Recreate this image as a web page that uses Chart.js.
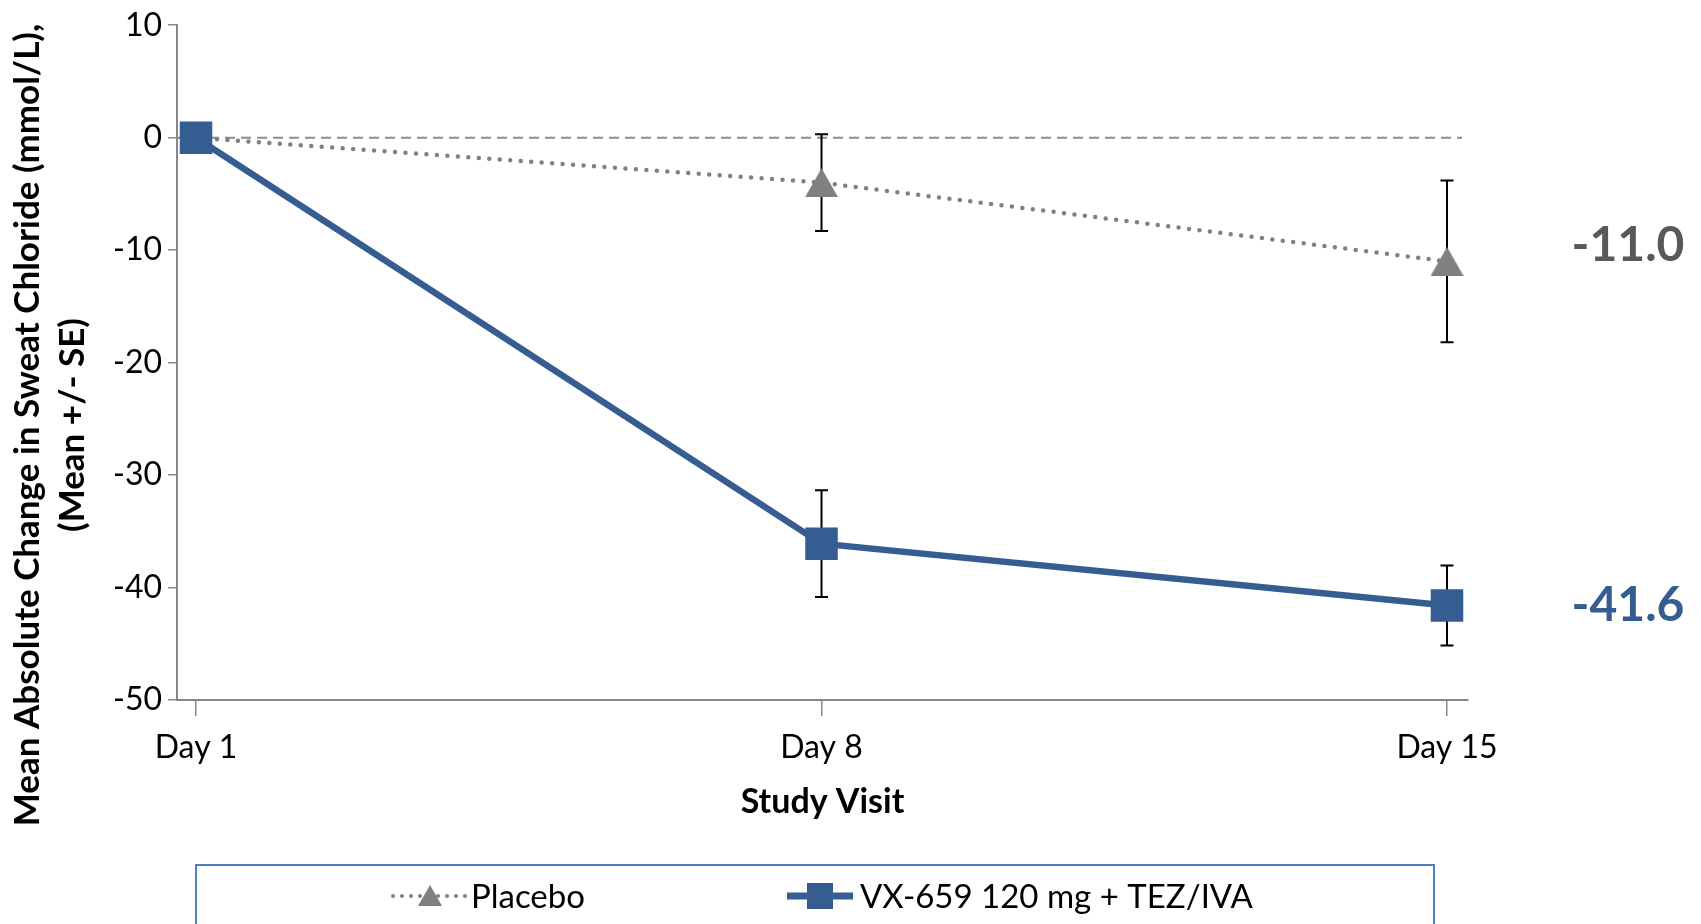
<!DOCTYPE html>
<html>
<head>
<meta charset="utf-8">
<script src="https://cdn.jsdelivr.net/npm/chart.js@4.4.1/dist/chart.umd.min.js"></script>
<style>
  html, body { margin: 0; padding: 0; background: #fff; }
  #wrap { width: 1701px; height: 924px; }
</style>
</head>
<body>
<div id="wrap"><canvas id="chart" width="1701" height="924"></canvas></div>
<script>
// data
const visits = ['Day 1', 'Day 8', 'Day 15'];
const visitDays = [1, 8, 15];
const placeboMean = [0, -4.0, -11.0];
const placeboSE = [0, 4.3, 7.2];
const vxMean = [0, -36.1, -41.6];
const vxSE = [0, 4.75, 3.55];
const yTicks = [10, 0, -10, -20, -30, -40, -50];
const seriesNames = ['Placebo', 'VX-659 120 mg + TEZ/IVA'];
const yTitle = ['Mean Absolute Change in Sweat Chloride (mmol/L),', '(Mean +/- SE)'];
const xTitle = 'Study Visit';

const GREY = '#808080';
const BLUE = '#355d91';
const AXIS = '#878787';
const FONT = 'Lato';

function toPoints(means) {
    return visitDays.map((d, i) => ({ x: d, y: means[i] }));
}

// triangle marker centred on its bounding box, like the original
function triangleMarker(w, h, color) {
    const c = document.createElement('canvas');
    c.width = w; c.height = h;
    const g = c.getContext('2d');
    g.fillStyle = color;
    g.beginPath();
    g.moveTo(w / 2, 0);
    g.lineTo(w, h);
    g.lineTo(0, h);
    g.closePath();
    g.fill();
    return c;
}

// error bars, zero line, titles, end labels and the boxed legend
const extras = {
    id: 'extras',
    beforeDatasetsDraw(chart) {
        const ctx = chart.ctx;
        const xs = chart.scales.x, ys = chart.scales.y;
        const area = chart.chartArea;

        // dashed reference line at 0
        ctx.save();
        ctx.strokeStyle = '#8c8c8c';
        ctx.lineWidth = 2;
        ctx.setLineDash([10, 6]);
        ctx.beginPath();
        ctx.moveTo(area.left, ys.getPixelForValue(0));
        ctx.lineTo(area.right - 6, ys.getPixelForValue(0));
        ctx.stroke();
        ctx.restore();

        // +/- SE whiskers
        ctx.save();
        ctx.strokeStyle = '#000';
        ctx.lineWidth = 2;
        chart.data.datasets.forEach(ds => {
            ds.data.forEach((p, i) => {
                const se = ds.se[i];
                if (!se) return;
                const x = xs.getPixelForValue(p.x);
                const top = ys.getPixelForValue(p.y + se);
                const bot = ys.getPixelForValue(p.y - se);
                ctx.beginPath();
                ctx.moveTo(x, top); ctx.lineTo(x, bot);
                ctx.moveTo(x - 6.5, top); ctx.lineTo(x + 6.5, top);
                ctx.moveTo(x - 6.5, bot); ctx.lineTo(x + 6.5, bot);
                ctx.stroke();
            });
        });
        ctx.restore();
    },
    afterDraw(chart) {
        const ctx = chart.ctx;
        const ys = chart.scales.y;
        const area = chart.chartArea;
        ctx.save();

        // final values to the right of the plot
        chart.data.datasets.forEach(ds => {
            const last = ds.data[ds.data.length - 1];
            ctx.font = 'bold 48px ' + FONT;
            ctx.fillStyle = ds.endColor;
            ctx.textAlign = 'center';
            ctx.textBaseline = 'alphabetic';
            const capMid = ys.getPixelForValue(last.y) + ds.endDy;
            ctx.fillText(last.y.toFixed(1), area.right + 160, capMid + 0.358 * 48);
        });

        // x title
        ctx.fillStyle = '#000';
        ctx.font = 'bold 34px ' + FONT;
        ctx.textAlign = 'center';
        ctx.fillText(xTitle, (area.left + area.right) / 2, 813);

        // y title, two rotated lines
        ctx.save();
        ctx.translate(0, 425);
        ctx.rotate(-Math.PI / 2);
        ctx.font = 'bold 35px ' + FONT;
        ctx.fillText(yTitle[0], 0, 39);
        ctx.fillText(yTitle[1], 0, 84);
        ctx.restore();

        // legend box
        ctx.strokeStyle = '#4f81bd';
        ctx.lineWidth = 2;
        ctx.strokeRect(196, 865, 1238, 80);

        const ly = 896;
        // placebo sample
        ctx.save();
        ctx.strokeStyle = GREY;
        ctx.lineWidth = 4;
        ctx.lineCap = 'round';
        ctx.setLineDash([0, 9]);
        ctx.beginPath();
        ctx.moveTo(393, ly); ctx.lineTo(466, ly);
        ctx.stroke();
        ctx.restore();
        ctx.fillStyle = GREY;
        ctx.beginPath();
        ctx.moveTo(430, ly - 11);
        ctx.lineTo(442, ly + 10);
        ctx.lineTo(418, ly + 10);
        ctx.closePath();
        ctx.fill();

        // VX sample
        ctx.strokeStyle = BLUE;
        ctx.lineWidth = 7;
        ctx.beginPath();
        ctx.moveTo(787, ly); ctx.lineTo(853, ly);
        ctx.stroke();
        ctx.fillStyle = BLUE;
        ctx.fillRect(820 - 13, ly - 13, 26, 26);

        ctx.fillStyle = '#000';
        ctx.font = '33px ' + FONT;
        ctx.textAlign = 'left';
        ctx.fillText(seriesNames[0], 471, ly + 0.358 * 33);
        ctx.fillText(seriesNames[1], 860, ly + 0.358 * 33);

        ctx.restore();
    }
};

const ctx = document.getElementById('chart').getContext('2d');
new Chart(ctx, {
    type: 'line',
    data: {
        datasets: [
            {
                label: seriesNames[1],
                data: toPoints(vxMean),
                se: vxSE,
                endColor: BLUE,
                endDy: -1.5,
                order: 0,
                borderColor: BLUE,
                borderWidth: 6.5,
                backgroundColor: BLUE,
                pointStyle: 'rect',
                pointRadius: 23,
                pointBackgroundColor: BLUE,
                pointBorderColor: BLUE,
                pointBorderWidth: 0,
                tension: 0
            },
            {
                label: seriesNames[0],
                data: toPoints(placeboMean),
                se: placeboSE,
                endColor: '#595959',
                endDy: -18,
                order: 1,
                borderColor: GREY,
                borderWidth: 4.5,
                borderDash: [0, 10.5],
                borderCapStyle: 'round',
                backgroundColor: GREY,
                pointStyle: triangleMarker(33, 29, GREY),
                pointRadius: [0, 16, 16],
                pointBackgroundColor: GREY,
                pointBorderColor: GREY,
                pointBorderWidth: 0,
                tension: 0
            }
        ]
    },
    options: {
        responsive: false,
        animation: false,
        events: [],
        devicePixelRatio: 1,
        layout: { padding: { left: 0, right: 233, top: 21, bottom: 0 } },
        scales: {
            x: {
                type: 'linear',
                min: 0.787,
                max: 15.235,
                afterBuildTicks: s => { s.ticks = visitDays.map(v => ({ value: v })); },
                afterFit: s => { s.height = 224; },
                ticks: {
                    callback: (v, i) => visits[i],
                    font: { family: FONT, size: 32 },
                    color: '#000',
                    padding: 12,
                    maxRotation: 0,
                    autoSkip: false
                },
                grid: { drawOnChartArea: false, tickLength: 16, color: '#8a8a8a', lineWidth: 1.5 },
                border: { color: AXIS, width: 2 }
            },
            y: {
                min: -50,
                max: 10,
                afterBuildTicks: s => { s.ticks = yTicks.map(v => ({ value: v })); },
                afterFit: s => { s.width = 177; },
                ticks: {
                    font: { family: FONT, size: 32 },
                    color: '#000',
                    padding: 6
                },
                grid: { drawOnChartArea: false, tickLength: 9, color: '#8a8a8a', lineWidth: 1.5 },
                border: { color: AXIS, width: 2 }
            }
        },
        plugins: {
            legend: { display: false },
            tooltip: { enabled: false }
        }
    },
    plugins: [extras]
});
</script>
</body>
</html>
